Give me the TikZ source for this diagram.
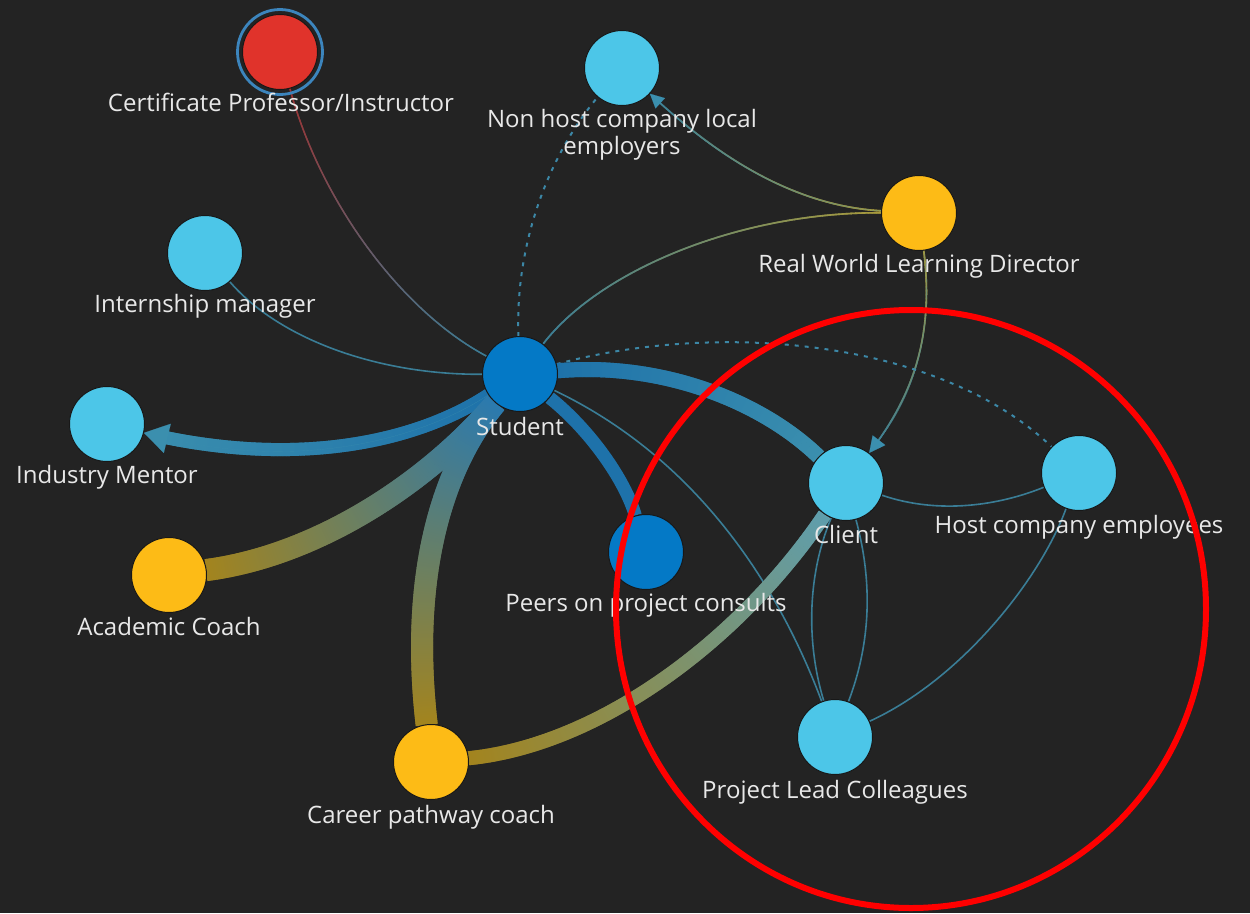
\documentclass[tikz,border=0pt]{standalone}
\usepackage{fontspec}
\setmainfont{Open Sans}
\usetikzlibrary{decorations.markings,arrows.meta}

\definecolor{bg}{HTML}{232323}
\definecolor{txt}{HTML}{E8E8E8}
\definecolor{nlight}{HTML}{4CC6E8}
\definecolor{ndeep}{HTML}{0479C6}
\definecolor{ngold}{HTML}{FDBB16}
\definecolor{nred}{HTML}{E0332B}
\definecolor{ring}{HTML}{3C85BD}
\definecolor{thin}{HTML}{3A7D96}
\definecolor{dotc}{HTML}{3C87A6}
\definecolor{deepline}{HTML}{1E72AA}
\definecolor{tealline}{HTML}{3B8FAE}
\definecolor{bandblue}{HTML}{2A7AB0}
\definecolor{clientband}{HTML}{5E9EAE}
\definecolor{goldline}{HTML}{A3841E}
\definecolor{oliveline}{HTML}{A89A3C}
\definecolor{redline}{HTML}{9A3434}
\definecolor{hilite}{HTML}{FF0000}

\pgfdeclarelayer{backdrop}
\pgfdeclarelayer{links}
\pgfsetlayers{backdrop,links,main}

% one short stroke of a colour-graded link
\newcommand\gradseg[3]{%
  \pgfmathsetmacro\gpct{min(100,max(0,100*(\pgfkeysvalueof{/pgf/decoration/mark info/distance from start}/\pgfdecoratedpathlength)))}%
  \begin{pgfscope}%
  \pgfsetlinewidth{#1}\pgfsetbuttcap
  \color{#3!\gpct!#2}%
  \pgfpathmoveto{\pgfqpoint{-0.75pt}{0pt}}%
  \pgfpathlineto{\pgfqpoint{0.75pt}{0pt}}%
  \pgfusepath{stroke}%
  \end{pgfscope}}

\tikzset{
  pnode/.style={circle, minimum size=75pt, inner sep=0pt, draw=bg!70!black, line width=1pt},
  lbl/.style={text=txt, font=\fontsize{24}{27}\selectfont, inner sep=0pt, anchor=base},
  thinlink/.style={draw=thin, line width=1.6pt},
  dotlink/.style={draw=dotc, line width=2pt, dash pattern=on 4pt off 6pt},
  gradline/.style n args={4}{decorate, decoration={markings,
    mark=between positions 0 and #4 step 0.8pt with {\gradseg{#1}{#2}{#3}}}},
  headonly/.style n args={3}{draw=#1, line width=0.1pt,
    -{Triangle[length=#2, width=#3]}},
}

\begin{document}
\begin{tikzpicture}[x=1pt,y=-1pt]
\begin{pgfonlayer}{backdrop}
  \fill[bg] (0,0) rectangle (1250,913);
\end{pgfonlayer}
\useasboundingbox (0,0) rectangle (1250,913);

% people
\node[pnode, fill=nred]   (cert) at (280,52)  {};
\node[pnode, fill=nlight] (nonh) at (622,68)  {};
\node[pnode, fill=ngold]  (rwld) at (919,213) {};
\node[pnode, fill=nlight] (intm) at (205,253) {};
\node[pnode, fill=ndeep]  (stu)  at (520,374) {};
\node[pnode, fill=nlight] (men)  at (107,424) {};
\node[pnode, fill=nlight] (cli)  at (846,483) {};
\node[pnode, fill=nlight] (host) at (1079,473) {};
\node[pnode, fill=ngold]  (acad) at (169,575) {};
\node[pnode, fill=ndeep]  (peer) at (646,552) {};
\node[pnode, fill=nlight] (plc)  at (835,737) {};
\node[pnode, fill=ngold]  (car)  at (431,762) {};
\draw[ring, line width=2.8pt] (cert.center) circle[radius=42.5pt];

% names
\node[lbl] (cert-t) at (281,111) {Certificate Professor/Instructor};
\node[lbl, align=center] (nonh-t) at (622,154) {Non host company local\\employers};
\node[lbl] (rwld-t) at (919,272) {Real World Learning Director};
\node[lbl] (intm-t) at (205,312) {Internship manager};
\node[lbl] (stu-t)  at (520,435) {Student};
\node[lbl] (men-t)  at (107,483) {Industry Mentor};
\node[lbl] (cli-t)  at (846,543) {Client};
\node[lbl] (host-t) at (1079,533) {Host company employees};
\node[lbl] (acad-t) at (169,635) {Academic Coach};
\node[lbl] (peer-t) at (646,611) {Peers on project consults};
\node[lbl] (plc-t)  at (835,798) {Project Lead Colleagues};
\node[lbl] (car-t)  at (431,823) {Career pathway coach};

\begin{pgfonlayer}{links}
  % thin links
  \path[gradline={1.4pt}{redline}{thin}{1}] (cert) .. controls (320,200) and (400,310) .. (stu);
  \draw[dotlink] (stu) .. controls (515,250) and (545,160) .. (nonh);
  \path[gradline={1.6pt}{oliveline}{thin}{-10pt}] (rwld) .. controls (780,205) and (700,140) .. (nonh);
  \draw[headonly={tealline}{14pt}{14pt}] (rwld) .. controls (780,205) and (700,140) .. (nonh);
  \path[gradline={1.6pt}{oliveline}{thin}{1}] (rwld) .. controls (740,212) and (600,270) .. (stu);
  \path[gradline={1.6pt}{oliveline}{thin}{-10pt}] (rwld) .. controls (935,340) and (910,400) .. (cli);
  \draw[headonly={tealline}{16pt}{16pt}] (rwld) .. controls (935,340) and (910,400) .. (cli);
  \draw[thinlink] (intm) .. controls (280,340) and (380,375) .. (stu);
  \draw[thinlink] (stu) .. controls (700,460) and (780,590) .. (plc);
  \draw[dotlink] (stu) .. controls (720,320) and (940,340) .. (host);
  \draw[thinlink] (cli) .. controls (940,515) and (1000,505) .. (host);
  \draw[thinlink] (cli) .. controls (805,580) and (808,650) .. (plc);
  \draw[thinlink] (cli) .. controls (875,590) and (868,650) .. (plc);
  \draw[thinlink] (host) .. controls (1040,580) and (960,680) .. (plc);
  % heavy links
  \path[gradline={13pt}{deepline}{tealline}{-18pt}] (stu) .. controls (420,440) and (300,470) .. (men);
  \draw[headonly={tealline}{24pt}{30pt}] (stu) .. controls (420,440) and (300,470) .. (men);
  \path[gradline={22pt}{goldline}{bandblue}{1}] (acad) .. controls (320,555) and (430,480) .. (stu);
  \path[gradline={22pt}{goldline}{bandblue}{1}] (car) .. controls (410,580) and (440,470) .. (stu);
  \path[gradline={14pt}{goldline}{clientband}{1}] (car) .. controls (600,745) and (740,640) .. (cli);
  \path[gradline={15pt}{deepline}{tealline}{1}] (stu) .. controls (660,362) and (760,400) .. (cli);
  \draw[deepline, line width=13pt] (stu) .. controls (590,430) and (625,480) .. (peer);
\end{pgfonlayer}

% highlight ring
\draw[hilite, line width=6pt] (911,609) ellipse [x radius=295pt, y radius=299pt];
\end{tikzpicture}
\end{document}
